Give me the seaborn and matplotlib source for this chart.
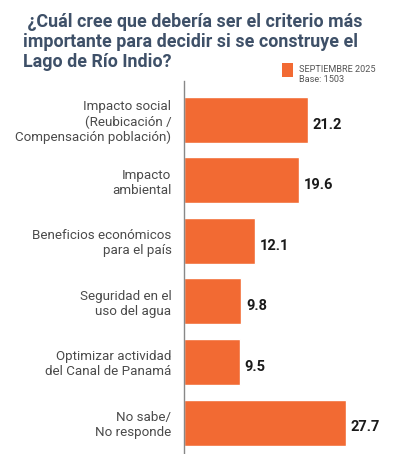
import matplotlib
matplotlib.use("Agg")
import matplotlib.pyplot as plt
import matplotlib.patches as mpatches
import pandas as pd
import seaborn as sns

categories = [
    "Impacto social\n(Reubicación /\nCompensación población)",
    "Impacto\nambiental",
    "Beneficios económicos\npara el país",
    "Seguridad en el\nuso del agua",
    "Optimizar actividad\ndel Canal de Panamá",
    "No sabe/\nNo responde",
]
values = [21.2, 19.6, 12.1, 9.8, 9.5, 27.7]
legend_label = "SEPTIEMBRE 2025"
base_note = "Base: 1503"
title_lines = [
    " ¿Cuál cree que debería ser el criterio más",
    "importante para decidir si se construye el",
    "Lago de Río Indio?",
]

ORANGE = "#f26a33"
TITLE_COLOR = "#3e5068"
LABEL_COLOR = "#4a4a4a"

sns.set_style("white")
plt.rcParams["font.family"] = ["Roboto", "DejaVu Sans"]

df = pd.DataFrame({"criterio": categories, "pct": values})

fig = plt.figure(figsize=(4.02, 4.54), dpi=100)
W, H = 402, 454
ax = fig.add_axes([184 / W, 0, (394 - 184) / W, (454 - 81) / H])

sns.barplot(data=df, y="criterio", x="pct", color=ORANGE, width=0.76,
            saturation=1, ax=ax, orient="h")

ax.set_xlim(0, 210 / 5.85)
ax.set_ylim(5.52, -0.64)
for side in ["top", "right", "bottom"]:
    ax.spines[side].set_visible(False)
ax.spines["left"].set_color("#888888")
ax.spines["left"].set_linewidth(1.0)
ax.set_xticks([])
ax.set_xlabel("")
ax.set_ylabel("")
ax.tick_params(axis="y", length=0, pad=9)
for lbl in ax.get_yticklabels():
    lbl.set_fontsize(9.6)
    lbl.set_color(LABEL_COLOR)
    lbl.set_horizontalalignment("right")
    lbl.set_multialignment("right")
    lbl.set_linespacing(1.2)

for bar, v in zip(ax.patches, values):
    ax.text(bar.get_width() + 0.8, bar.get_y() + bar.get_height() / 2 + 0.08,
            f"{v:.1f}", va="center", ha="left", fontsize=10.5,
            fontweight="bold", color="#1a1a1a")

# title as separate lines (20 px apart)
for i, line in enumerate(title_lines):
    fig.text(23 / W, 1 - (27 + 20 * i) / H, line, ha="left", va="baseline",
             fontsize=12.9, fontweight="bold", color=TITLE_COLOR)

fig.patches.append(mpatches.Rectangle((282 / W, 1 - 77 / H), 11 / W, 14 / H,
                                      transform=fig.transFigure,
                                      facecolor=ORANGE, edgecolor="none"))
fig.text(299 / W, 1 - 70 / H, legend_label, ha="left", va="center",
         fontsize=6.6, color="#555555")
fig.text(299 / W, 1 - 80 / H, base_note, ha="left", va="center",
         fontsize=6.6, color="#555555")

fig.savefig("out.png", dpi=100)
